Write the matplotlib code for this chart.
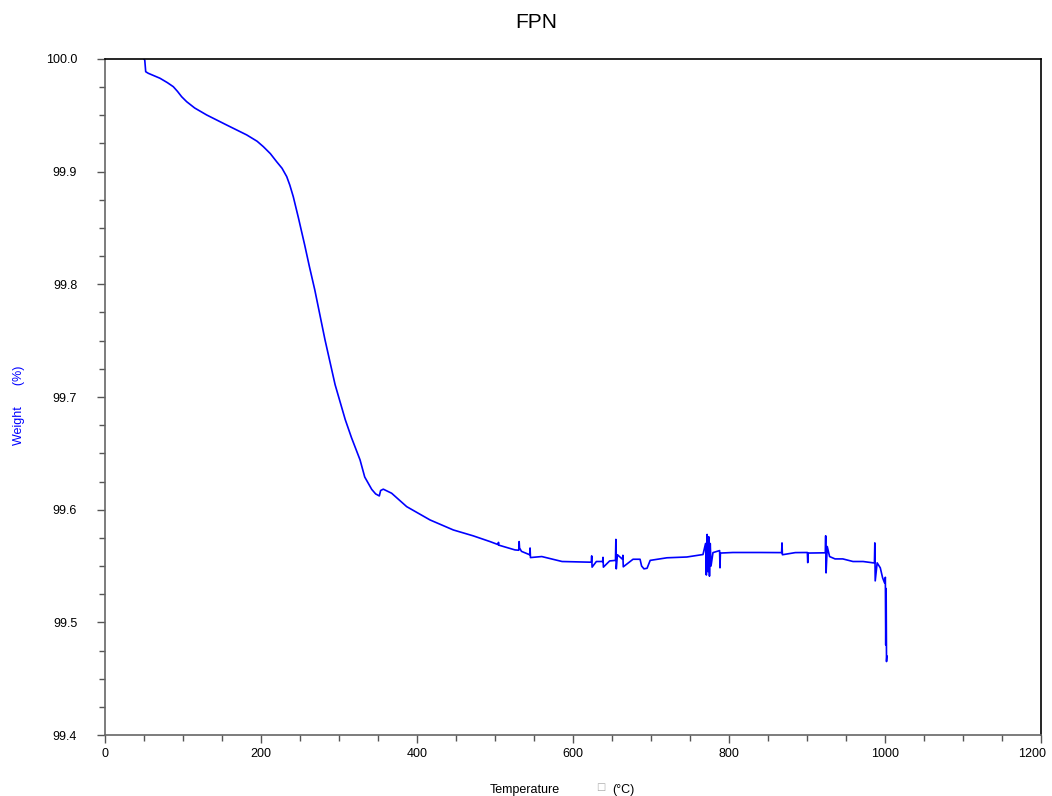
import matplotlib.pyplot as plt
from matplotlib.ticker import MultipleLocator
from matplotlib.transforms import ScaledTranslation

plt.rcParams['font.family'] = ['Liberation Sans', 'DejaVu Sans']

# TGA curve (temperature in °C, weight in %)
temperature = [
    50, 51, 52.2, 55.5, 70.5, 80, 87.6, 93, 98.3, 104.7, 115, 130.4, 156, 181.7, 195, 203,
    212, 220, 227, 233, 237, 241.4, 248, 256, 262, 269, 282, 295, 308, 316, 327, 333,
    342, 347, 351.7, 353.4, 356.8, 367.5, 386.8,
    416.7, 446.6, 472, 493.6, 504, 504.5, 505, 525.6, 530.5, 531, 531.5, 534,
    544.5, 545, 545.5, 560, 586, 622,
    623.5, 624, 624.5, 630, 638, 638.5, 639, 647, 654.5, 655, 655.5, 657, 663.5, 664, 664.5,
    677, 686, 688, 691, 695, 699, 720.5, 746, 766.7,
    770, 771, 772, 773, 774, 775, 776, 777, 779.5,
    788, 788.5, 789, 805, 840, 867.5, 868, 868.5, 885, 900.5, 901, 901.5, 920,
    923.5, 924, 924.5, 926, 929, 936, 946, 959, 972, 985,
    986.5, 987, 987.5, 990, 994, 997, 999.5, 1000.5, 1001, 1001.5, 1002, 1002.5,
]
weight = [
    100.0, 99.999, 99.9887, 99.9873, 99.9829, 99.9790, 99.9754, 99.9712, 99.9665, 99.9621,
    99.9565, 99.9503, 99.9414, 99.9326, 99.9270, 99.9222,
    99.9160, 99.9089, 99.9030, 99.8956, 99.8880, 99.8778, 99.8590, 99.8350, 99.8160,
    99.7950, 99.7510, 99.7110, 99.6800, 99.6640, 99.6442, 99.6290,
    99.6180, 99.6140, 99.6122, 99.6170, 99.6182, 99.6146, 99.6027,
    99.5909, 99.582, 99.5768, 99.5717, 99.5690, 99.5710, 99.5685, 99.5643, 99.5640, 99.5717,
    99.5660, 99.5630,
    99.5600, 99.5660, 99.5575, 99.5584, 99.5540, 99.5534,
    99.5534, 99.5590, 99.5490, 99.5540, 99.5540, 99.5577, 99.5490, 99.5545, 99.5550,
    99.5736, 99.5475, 99.5600, 99.5560, 99.5595, 99.5493,
    99.5560, 99.5560, 99.5500, 99.5475, 99.5480, 99.5550, 99.5573, 99.5580, 99.5602,
    99.5700, 99.5420, 99.5780, 99.5450, 99.5760, 99.5410, 99.5700, 99.5500, 99.5619,
    99.5637, 99.5484, 99.5615, 99.5620, 99.5620, 99.5619, 99.5705, 99.5600, 99.5619,
    99.5620, 99.5530, 99.5615, 99.5617,
    99.5617, 99.5768, 99.5439, 99.5673, 99.5584, 99.5563, 99.5563, 99.5540, 99.5540,
    99.5528,
    99.5528, 99.5705, 99.5368, 99.5528, 99.5484, 99.5395, 99.5350, 99.5400, 99.4800,
    99.5300, 99.4652, 99.4700,
]

xticks = [0, 200, 400, 600, 800, 1000, 1200]
yticks = [99.4, 99.5, 99.6, 99.7, 99.8, 99.9, 100.0]

fig = plt.figure(figsize=(10.52, 7.96), dpi=100)
ax = fig.add_axes([0.0998, 0.0766, 0.8897, 0.8493])

ax.plot(temperature, weight, color='#0000ff', linewidth=1.2)

ax.set_xlim(0, 1200)
ax.set_ylim(99.4, 100.0)
ax.set_xticks(xticks)
ax.set_yticks(yticks)
ax.set_yticklabels([f'{v:.1f}' for v in yticks])
ax.xaxis.set_minor_locator(MultipleLocator(50))
ax.yaxis.set_minor_locator(MultipleLocator(0.025))

ax.tick_params(axis='both', which='major', direction='out', length=6, width=1,
               color='#555555', labelsize=9, labelcolor='black')
ax.tick_params(axis='both', which='minor', direction='out', length=4, width=1,
               color='#555555')
ax.tick_params(axis='y', which='major', pad=14)
ax.tick_params(axis='x', which='major', pad=3)

# last x label is pulled inside the figure like in the original
last = ax.get_xticklabels()[-1]
last.set_horizontalalignment('right')
last.set_transform(last.get_transform() + ScaledTranslation(0.05, 0, fig.dpi_scale_trans))

ax.spines['left'].set_color('#666666')
ax.spines['bottom'].set_color('#666666')
ax.spines['top'].set_color('black')
ax.spines['right'].set_color('black')
for s in ax.spines.values():
    s.set_linewidth(1.2)

fig.text(0.51, 0.972, 'FPN', ha='center', va='center', fontsize=15)

ax.set_ylabel('Weight      (%)', color='#0000ff', fontsize=9)
ax.yaxis.set_label_coords(-0.085, 0.488)

fig.text(0.499, 0.0075, 'Temperature', ha='center', va='center', fontsize=9)
fig.text(0.571, 0.011, '□', ha='center', va='center', fontsize=7, color='#aaaaaa',
         family=['DejaVu Sans'])
fig.text(0.582, 0.0075, '(°C)', ha='left', va='center', fontsize=9)

fig.savefig('out.png', dpi=100)
